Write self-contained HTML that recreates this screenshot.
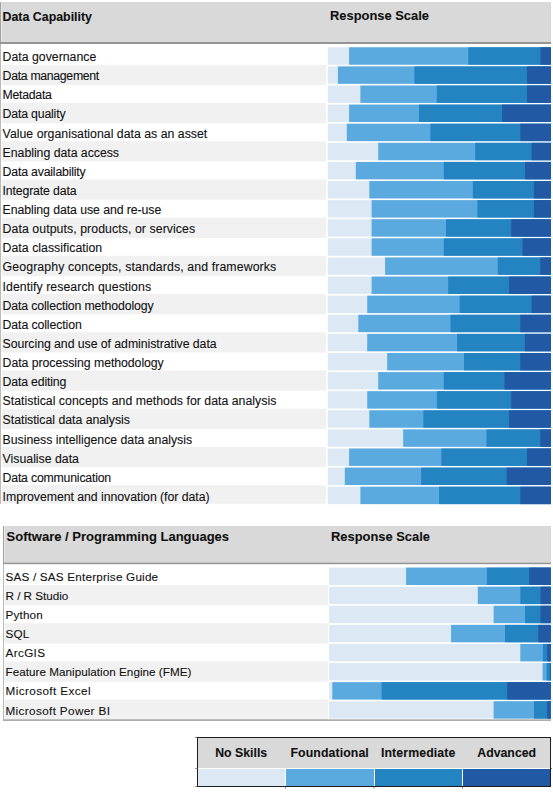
<!DOCTYPE html>
<html><head><meta charset="utf-8"><style>
html,body{margin:0;padding:0;background:#fff;width:553px;height:793px;overflow:hidden;position:relative}
svg{position:absolute;left:0;top:0}
.t{position:absolute;font-family:"Liberation Sans",sans-serif;color:#111;-webkit-text-stroke:0.1px #111;white-space:nowrap;line-height:0;height:0}
</style></head><body>
<svg width="553" height="793" viewBox="0 0 553 793" shape-rendering="auto">
<rect x="0.00" y="2.00" width="551.00" height="40.00" fill="#d9d9d9"/>
<rect x="0.00" y="2.00" width="1.00" height="502.00" fill="#bababa"/>
<rect x="0.00" y="2.00" width="1.00" height="40.00" fill="#a2a2a2"/>
<rect x="1.00" y="2.00" width="1.00" height="40.00" fill="#e6e6e6"/>
<rect x="0.00" y="42.00" width="551.00" height="2.00" fill="#959595"/>
<rect x="327.80" y="47.30" width="223.20" height="17.40" fill="#dce9f5"/>
<rect x="349.10" y="47.30" width="201.90" height="17.40" fill="#5aaae0"/>
<rect x="468.30" y="47.30" width="82.70" height="17.40" fill="#2484c1"/>
<rect x="540.50" y="47.30" width="10.50" height="17.40" fill="#2259a5"/>
<rect x="2.00" y="64.80" width="324.00" height="20.30" fill="#f1f1f1"/>
<rect x="327.80" y="66.41" width="223.20" height="17.40" fill="#dce9f5"/>
<rect x="337.90" y="66.41" width="213.10" height="17.40" fill="#5aaae0"/>
<rect x="414.40" y="66.41" width="136.60" height="17.40" fill="#2484c1"/>
<rect x="527.00" y="66.41" width="24.00" height="17.40" fill="#2259a5"/>
<rect x="327.80" y="85.51" width="223.20" height="17.40" fill="#dce9f5"/>
<rect x="360.40" y="85.51" width="190.60" height="17.40" fill="#5aaae0"/>
<rect x="436.80" y="85.51" width="114.20" height="17.40" fill="#2484c1"/>
<rect x="527.00" y="85.51" width="24.00" height="17.40" fill="#2259a5"/>
<rect x="2.00" y="103.01" width="324.00" height="20.30" fill="#f1f1f1"/>
<rect x="327.80" y="104.61" width="223.20" height="17.40" fill="#dce9f5"/>
<rect x="349.10" y="104.61" width="201.90" height="17.40" fill="#5aaae0"/>
<rect x="419.00" y="104.61" width="132.00" height="17.40" fill="#2484c1"/>
<rect x="502.10" y="104.61" width="48.90" height="17.40" fill="#2259a5"/>
<rect x="327.80" y="123.72" width="223.20" height="17.40" fill="#dce9f5"/>
<rect x="346.80" y="123.72" width="204.20" height="17.40" fill="#5aaae0"/>
<rect x="430.40" y="123.72" width="120.60" height="17.40" fill="#2484c1"/>
<rect x="520.30" y="123.72" width="30.70" height="17.40" fill="#2259a5"/>
<rect x="2.00" y="141.22" width="324.00" height="20.30" fill="#f1f1f1"/>
<rect x="327.80" y="142.82" width="223.20" height="17.40" fill="#dce9f5"/>
<rect x="378.20" y="142.82" width="172.80" height="17.40" fill="#5aaae0"/>
<rect x="475.20" y="142.82" width="75.80" height="17.40" fill="#2484c1"/>
<rect x="531.60" y="142.82" width="19.40" height="17.40" fill="#2259a5"/>
<rect x="327.80" y="161.93" width="223.20" height="17.40" fill="#dce9f5"/>
<rect x="355.80" y="161.93" width="195.20" height="17.40" fill="#5aaae0"/>
<rect x="443.80" y="161.93" width="107.20" height="17.40" fill="#2484c1"/>
<rect x="525.00" y="161.93" width="26.00" height="17.40" fill="#2259a5"/>
<rect x="2.00" y="179.44" width="324.00" height="20.30" fill="#f1f1f1"/>
<rect x="327.80" y="181.03" width="223.20" height="17.40" fill="#dce9f5"/>
<rect x="369.30" y="181.03" width="181.70" height="17.40" fill="#5aaae0"/>
<rect x="472.90" y="181.03" width="78.10" height="17.40" fill="#2484c1"/>
<rect x="533.90" y="181.03" width="17.10" height="17.40" fill="#2259a5"/>
<rect x="327.80" y="200.14" width="223.20" height="17.40" fill="#dce9f5"/>
<rect x="371.60" y="200.14" width="179.40" height="17.40" fill="#5aaae0"/>
<rect x="477.40" y="200.14" width="73.60" height="17.40" fill="#2484c1"/>
<rect x="533.90" y="200.14" width="17.10" height="17.40" fill="#2259a5"/>
<rect x="2.00" y="217.64" width="324.00" height="20.30" fill="#f1f1f1"/>
<rect x="327.80" y="219.24" width="223.20" height="17.40" fill="#dce9f5"/>
<rect x="371.60" y="219.24" width="179.40" height="17.40" fill="#5aaae0"/>
<rect x="446.00" y="219.24" width="105.00" height="17.40" fill="#2484c1"/>
<rect x="511.20" y="219.24" width="39.80" height="17.40" fill="#2259a5"/>
<rect x="327.80" y="238.35" width="223.20" height="17.40" fill="#dce9f5"/>
<rect x="371.60" y="238.35" width="179.40" height="17.40" fill="#5aaae0"/>
<rect x="443.80" y="238.35" width="107.20" height="17.40" fill="#2484c1"/>
<rect x="522.50" y="238.35" width="28.50" height="17.40" fill="#2259a5"/>
<rect x="2.00" y="255.85" width="324.00" height="20.30" fill="#f1f1f1"/>
<rect x="327.80" y="257.45" width="223.20" height="17.40" fill="#dce9f5"/>
<rect x="385.10" y="257.45" width="165.90" height="17.40" fill="#5aaae0"/>
<rect x="497.80" y="257.45" width="53.20" height="17.40" fill="#2484c1"/>
<rect x="540.30" y="257.45" width="10.70" height="17.40" fill="#2259a5"/>
<rect x="327.80" y="276.56" width="223.20" height="17.40" fill="#dce9f5"/>
<rect x="371.60" y="276.56" width="179.40" height="17.40" fill="#5aaae0"/>
<rect x="448.20" y="276.56" width="102.80" height="17.40" fill="#2484c1"/>
<rect x="509.00" y="276.56" width="42.00" height="17.40" fill="#2259a5"/>
<rect x="2.00" y="294.07" width="324.00" height="20.30" fill="#f1f1f1"/>
<rect x="327.80" y="295.67" width="223.20" height="17.40" fill="#dce9f5"/>
<rect x="367.20" y="295.67" width="183.80" height="17.40" fill="#5aaae0"/>
<rect x="459.60" y="295.67" width="91.40" height="17.40" fill="#2484c1"/>
<rect x="531.60" y="295.67" width="19.40" height="17.40" fill="#2259a5"/>
<rect x="327.80" y="314.77" width="223.20" height="17.40" fill="#dce9f5"/>
<rect x="358.30" y="314.77" width="192.70" height="17.40" fill="#5aaae0"/>
<rect x="450.50" y="314.77" width="100.50" height="17.40" fill="#2484c1"/>
<rect x="520.30" y="314.77" width="30.70" height="17.40" fill="#2259a5"/>
<rect x="2.00" y="332.28" width="324.00" height="20.30" fill="#f1f1f1"/>
<rect x="327.80" y="333.88" width="223.20" height="17.40" fill="#dce9f5"/>
<rect x="367.20" y="333.88" width="183.80" height="17.40" fill="#5aaae0"/>
<rect x="457.10" y="333.88" width="93.90" height="17.40" fill="#2484c1"/>
<rect x="524.80" y="333.88" width="26.20" height="17.40" fill="#2259a5"/>
<rect x="327.80" y="352.98" width="223.20" height="17.40" fill="#dce9f5"/>
<rect x="387.20" y="352.98" width="163.80" height="17.40" fill="#5aaae0"/>
<rect x="464.00" y="352.98" width="87.00" height="17.40" fill="#2484c1"/>
<rect x="520.30" y="352.98" width="30.70" height="17.40" fill="#2259a5"/>
<rect x="2.00" y="370.49" width="324.00" height="20.30" fill="#f1f1f1"/>
<rect x="327.80" y="372.09" width="223.20" height="17.40" fill="#dce9f5"/>
<rect x="378.20" y="372.09" width="172.80" height="17.40" fill="#5aaae0"/>
<rect x="443.80" y="372.09" width="107.20" height="17.40" fill="#2484c1"/>
<rect x="504.50" y="372.09" width="46.50" height="17.40" fill="#2259a5"/>
<rect x="327.80" y="391.19" width="223.20" height="17.40" fill="#dce9f5"/>
<rect x="367.20" y="391.19" width="183.80" height="17.40" fill="#5aaae0"/>
<rect x="436.80" y="391.19" width="114.20" height="17.40" fill="#2484c1"/>
<rect x="511.20" y="391.19" width="39.80" height="17.40" fill="#2259a5"/>
<rect x="2.00" y="408.70" width="324.00" height="20.30" fill="#f1f1f1"/>
<rect x="327.80" y="410.30" width="223.20" height="17.40" fill="#dce9f5"/>
<rect x="369.30" y="410.30" width="181.70" height="17.40" fill="#5aaae0"/>
<rect x="423.40" y="410.30" width="127.60" height="17.40" fill="#2484c1"/>
<rect x="509.00" y="410.30" width="42.00" height="17.40" fill="#2259a5"/>
<rect x="327.80" y="429.40" width="223.20" height="17.40" fill="#dce9f5"/>
<rect x="403.20" y="429.40" width="147.80" height="17.40" fill="#5aaae0"/>
<rect x="486.50" y="429.40" width="64.50" height="17.40" fill="#2484c1"/>
<rect x="540.30" y="429.40" width="10.70" height="17.40" fill="#2259a5"/>
<rect x="2.00" y="446.91" width="324.00" height="20.30" fill="#f1f1f1"/>
<rect x="327.80" y="448.50" width="223.20" height="17.40" fill="#dce9f5"/>
<rect x="349.10" y="448.50" width="201.90" height="17.40" fill="#5aaae0"/>
<rect x="441.30" y="448.50" width="109.70" height="17.40" fill="#2484c1"/>
<rect x="527.00" y="448.50" width="24.00" height="17.40" fill="#2259a5"/>
<rect x="327.80" y="467.61" width="223.20" height="17.40" fill="#dce9f5"/>
<rect x="344.80" y="467.61" width="206.20" height="17.40" fill="#5aaae0"/>
<rect x="421.10" y="467.61" width="129.90" height="17.40" fill="#2484c1"/>
<rect x="506.70" y="467.61" width="44.30" height="17.40" fill="#2259a5"/>
<rect x="2.00" y="485.12" width="324.00" height="18.60" fill="#f1f1f1"/>
<rect x="327.80" y="486.72" width="223.20" height="17.40" fill="#dce9f5"/>
<rect x="360.40" y="486.72" width="190.60" height="17.40" fill="#5aaae0"/>
<rect x="439.10" y="486.72" width="111.90" height="17.40" fill="#2484c1"/>
<rect x="520.30" y="486.72" width="30.70" height="17.40" fill="#2259a5"/>
<rect x="3.00" y="526.00" width="548.00" height="37.00" fill="#d9d9d9"/>
<rect x="3.00" y="526.00" width="1.00" height="194.00" fill="#bababa"/>
<rect x="3.00" y="526.00" width="1.00" height="37.00" fill="#a2a2a2"/>
<rect x="4.00" y="526.00" width="1.00" height="37.00" fill="#e6e6e6"/>
<rect x="3.00" y="562.70" width="548.00" height="1.50" fill="#959595"/>
<rect x="329.00" y="567.60" width="221.90" height="17.40" fill="#dce9f5"/>
<rect x="406.10" y="567.60" width="144.80" height="17.40" fill="#5aaae0"/>
<rect x="486.90" y="567.60" width="64.00" height="17.40" fill="#2484c1"/>
<rect x="529.20" y="567.60" width="21.70" height="17.40" fill="#2259a5"/>
<rect x="4.50" y="585.09" width="323.50" height="20.29" fill="#f1f1f1"/>
<rect x="329.00" y="586.69" width="221.90" height="17.40" fill="#dce9f5"/>
<rect x="477.80" y="586.69" width="73.10" height="17.40" fill="#5aaae0"/>
<rect x="520.30" y="586.69" width="30.60" height="17.40" fill="#2484c1"/>
<rect x="540.50" y="586.69" width="10.40" height="17.40" fill="#2259a5"/>
<rect x="329.00" y="605.78" width="221.90" height="17.40" fill="#dce9f5"/>
<rect x="493.60" y="605.78" width="57.30" height="17.40" fill="#5aaae0"/>
<rect x="525.00" y="605.78" width="25.90" height="17.40" fill="#2484c1"/>
<rect x="540.50" y="605.78" width="10.40" height="17.40" fill="#2259a5"/>
<rect x="4.50" y="623.27" width="323.50" height="20.29" fill="#f1f1f1"/>
<rect x="329.00" y="624.87" width="221.90" height="17.40" fill="#dce9f5"/>
<rect x="451.10" y="624.87" width="99.80" height="17.40" fill="#5aaae0"/>
<rect x="505.00" y="624.87" width="45.90" height="17.40" fill="#2484c1"/>
<rect x="538.30" y="624.87" width="12.60" height="17.40" fill="#2259a5"/>
<rect x="329.00" y="643.96" width="221.90" height="17.40" fill="#dce9f5"/>
<rect x="520.30" y="643.96" width="30.60" height="17.40" fill="#5aaae0"/>
<rect x="542.90" y="643.96" width="8.00" height="17.40" fill="#2484c1"/>
<rect x="547.20" y="643.96" width="3.70" height="17.40" fill="#2259a5"/>
<rect x="4.50" y="661.45" width="323.50" height="20.29" fill="#f1f1f1"/>
<rect x="329.00" y="663.05" width="221.90" height="17.40" fill="#dce9f5"/>
<rect x="542.60" y="663.05" width="8.30" height="17.40" fill="#5aaae0"/>
<rect x="546.70" y="663.05" width="4.20" height="17.40" fill="#2484c1"/>
<rect x="550.00" y="663.05" width="0.90" height="17.40" fill="#2259a5"/>
<rect x="329.00" y="682.14" width="221.90" height="17.40" fill="#dce9f5"/>
<rect x="332.30" y="682.14" width="218.60" height="17.40" fill="#5aaae0"/>
<rect x="381.60" y="682.14" width="169.30" height="17.40" fill="#2484c1"/>
<rect x="507.20" y="682.14" width="43.70" height="17.40" fill="#2259a5"/>
<rect x="4.50" y="699.63" width="323.50" height="20.29" fill="#f1f1f1"/>
<rect x="329.00" y="701.23" width="221.90" height="17.40" fill="#dce9f5"/>
<rect x="493.60" y="701.23" width="57.30" height="17.40" fill="#5aaae0"/>
<rect x="534.00" y="701.23" width="16.90" height="17.40" fill="#2484c1"/>
<rect x="547.20" y="701.23" width="3.70" height="17.40" fill="#2259a5"/>
<rect x="3.00" y="719.50" width="548.00" height="1.20" fill="#8a8a8a"/>
<rect x="197.00" y="737.00" width="354.00" height="50.00" fill="#1e1e1e"/>
<rect x="198.00" y="738.00" width="352.00" height="30.00" fill="#d9d9d9"/>
<rect x="198.00" y="768.00" width="352.00" height="18.00" fill="#ffffff"/>
<rect x="198.00" y="769.00" width="87.00" height="17.00" fill="#dce9f5"/>
<rect x="286.00" y="769.00" width="88.00" height="17.00" fill="#5aaae0"/>
<rect x="375.00" y="769.00" width="87.00" height="17.00" fill="#2484c1"/>
<rect x="463.00" y="769.00" width="87.00" height="17.00" fill="#2259a5"/>
<rect x="195.30" y="768.00" width="2.00" height="1.00" fill="#888"/>
<rect x="195.30" y="786.00" width="2.00" height="1.00" fill="#888"/>
<rect x="195.30" y="737.00" width="2.00" height="1.00" fill="#777"/>
<rect x="551.00" y="768.00" width="1.00" height="1.00" fill="#888"/>
<rect x="285.00" y="787.00" width="1.00" height="1.60" fill="#888"/>
<rect x="373.50" y="787.00" width="1.00" height="1.60" fill="#888"/>
<rect x="462.00" y="787.00" width="1.00" height="1.60" fill="#888"/>
</svg>
<div class="t" style="left:2.60px;top:57.04px;font-size:12.3px;letter-spacing:0.000px;">Data governance</div>
<div class="t" style="left:2.60px;top:76.16px;font-size:12.3px;letter-spacing:-0.321px;">Data management</div>
<div class="t" style="left:2.60px;top:95.29px;font-size:12.3px;letter-spacing:-0.286px;">Metadata</div>
<div class="t" style="left:2.60px;top:114.41px;font-size:12.3px;letter-spacing:-0.182px;">Data quality</div>
<div class="t" style="left:2.60px;top:133.54px;font-size:12.3px;letter-spacing:0.014px;">Value organisational data as an asset</div>
<div class="t" style="left:2.60px;top:152.66px;font-size:12.3px;letter-spacing:-0.026px;">Enabling data access</div>
<div class="t" style="left:2.60px;top:171.79px;font-size:12.3px;letter-spacing:-0.188px;">Data availability</div>
<div class="t" style="left:2.60px;top:190.91px;font-size:12.3px;letter-spacing:-0.154px;">Integrate data</div>
<div class="t" style="left:2.60px;top:210.04px;font-size:12.3px;letter-spacing:-0.074px;">Enabling data use and re-use</div>
<div class="t" style="left:2.60px;top:229.16px;font-size:12.3px;letter-spacing:0.074px;">Data outputs, products, or services</div>
<div class="t" style="left:2.60px;top:248.29px;font-size:12.3px;letter-spacing:0.028px;">Data classification</div>
<div class="t" style="left:2.60px;top:267.41px;font-size:12.3px;letter-spacing:0.114px;">Geography concepts, standards, and frameworks</div>
<div class="t" style="left:2.60px;top:286.54px;font-size:12.3px;letter-spacing:0.058px;">Identify research questions</div>
<div class="t" style="left:2.60px;top:305.66px;font-size:12.3px;letter-spacing:-0.135px;">Data collection methodology</div>
<div class="t" style="left:2.60px;top:324.79px;font-size:12.3px;letter-spacing:-0.107px;">Data collection</div>
<div class="t" style="left:2.60px;top:343.91px;font-size:12.3px;letter-spacing:-0.053px;">Sourcing and use of administrative data</div>
<div class="t" style="left:2.60px;top:363.04px;font-size:12.3px;letter-spacing:-0.058px;">Data processing methodology</div>
<div class="t" style="left:2.60px;top:382.16px;font-size:12.3px;letter-spacing:-0.182px;">Data editing</div>
<div class="t" style="left:2.60px;top:401.29px;font-size:12.3px;letter-spacing:0.020px;">Statistical concepts and methods for data analysis</div>
<div class="t" style="left:2.60px;top:420.41px;font-size:12.3px;letter-spacing:-0.021px;">Statistical data analysis</div>
<div class="t" style="left:2.60px;top:439.54px;font-size:12.3px;letter-spacing:-0.015px;">Business intelligence data analysis</div>
<div class="t" style="left:2.60px;top:458.66px;font-size:12.3px;letter-spacing:-0.000px;">Visualise data</div>
<div class="t" style="left:2.60px;top:477.79px;font-size:12.3px;letter-spacing:-0.206px;">Data communication</div>
<div class="t" style="left:2.60px;top:496.91px;font-size:12.3px;letter-spacing:-0.042px;">Improvement and innovation (for data)</div>
<div class="t" style="left:5.50px;top:576.95px;font-size:11.7px;letter-spacing:0.205px;">SAS / SAS Enterprise Guide</div>
<div class="t" style="left:5.50px;top:596.04px;font-size:11.7px;letter-spacing:-0.017px;">R / R Studio</div>
<div class="t" style="left:5.50px;top:615.13px;font-size:11.7px;letter-spacing:0.165px;">Python</div>
<div class="t" style="left:5.50px;top:634.22px;font-size:11.7px;letter-spacing:0.165px;">SQL</div>
<div class="t" style="left:5.50px;top:653.31px;font-size:11.7px;letter-spacing:0.365px;">ArcGIS</div>
<div class="t" style="left:5.50px;top:672.40px;font-size:11.7px;letter-spacing:0.024px;">Feature Manipulation Engine (FME)</div>
<div class="t" style="left:5.50px;top:691.49px;font-size:11.7px;letter-spacing:0.415px;">Microsoft Excel</div>
<div class="t" style="left:5.50px;top:710.58px;font-size:11.7px;letter-spacing:0.371px;">Microsoft Power BI</div>
<div class="t" style="left:197.00px;top:753.04px;font-size:12.3px;font-weight:bold;width:88.40px;text-align:center;">No Skills</div>
<div class="t" style="left:285.45px;top:753.04px;font-size:12.3px;font-weight:bold;letter-spacing:0.100px;width:88.50px;text-align:center;">Foundational</div>
<div class="t" style="left:373.96px;top:753.04px;font-size:12.3px;font-weight:bold;letter-spacing:0.120px;width:88.50px;text-align:center;">Intermediate</div>
<div class="t" style="left:462.40px;top:753.04px;font-size:12.3px;font-weight:bold;width:88.60px;text-align:center;">Advanced</div>
<div class="t" style="left:2.50px;top:17.10px;font-size:12.4px;font-weight:bold;">Data Capability</div>
<div class="t" style="left:330.00px;top:15.73px;font-size:12.9px;font-weight:bold;">Response Scale</div>
<div class="t" style="left:6.60px;top:537.40px;font-size:13px;font-weight:bold;">Software / Programming Languages</div>
<div class="t" style="left:331.00px;top:536.53px;font-size:12.9px;font-weight:bold;">Response Scale</div>
</body></html>
